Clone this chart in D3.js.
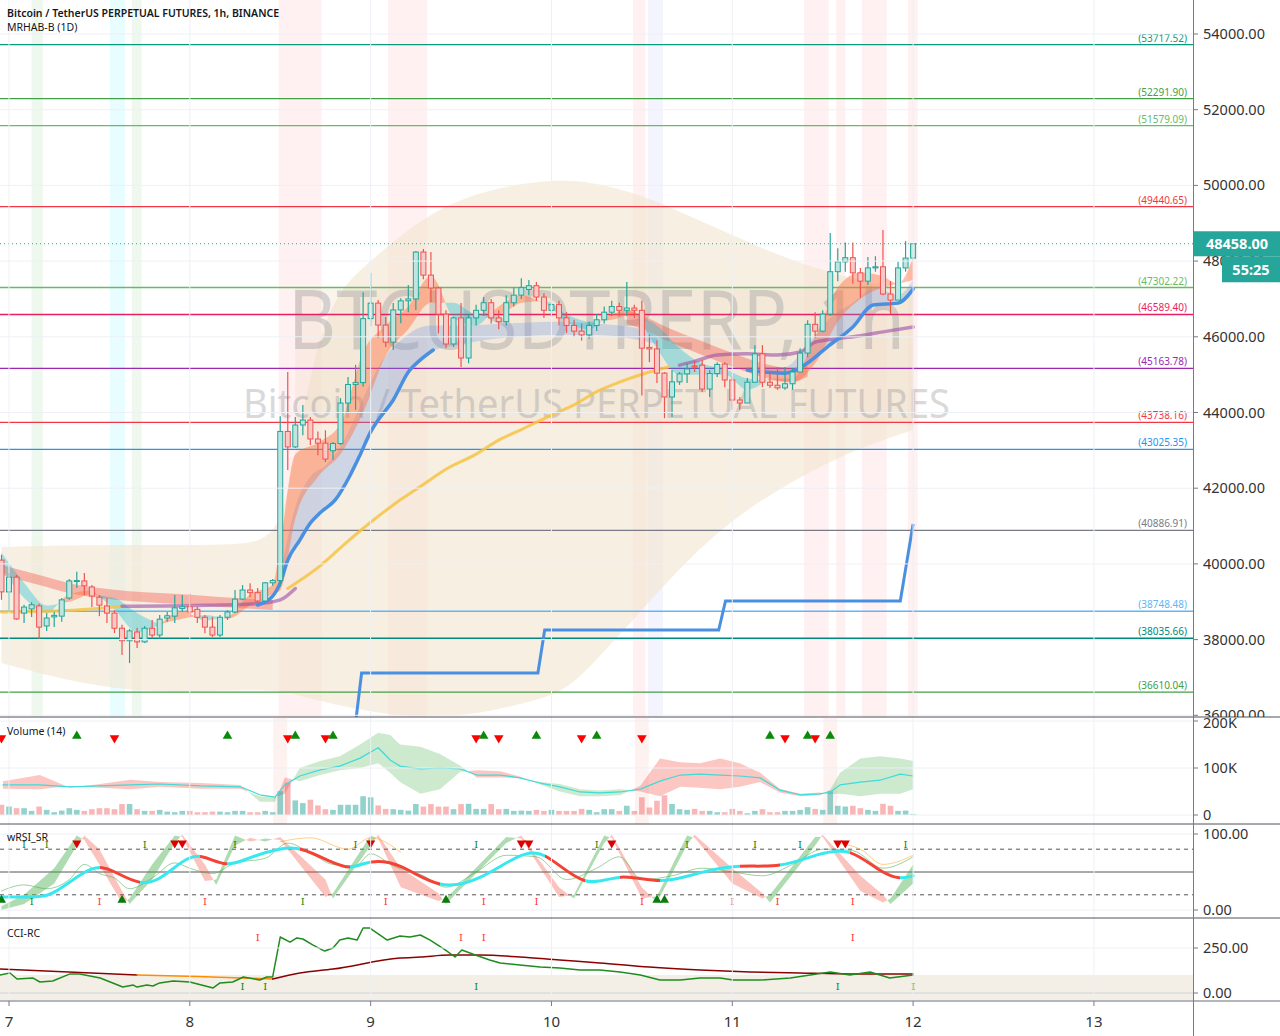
<!DOCTYPE html>
<html><head><meta charset="utf-8">
<script src="https://cdn.jsdelivr.net/npm/d3@7"></script>
<style>body{margin:0;background:#fff;overflow:hidden}svg{display:block;font-family:"Noto Sans",sans-serif}</style>
</head><body><svg id="c" width="1280" height="1036"></svg>
<script>
// ---------------- DATA ----------------
const dayLabels = ["7","8","9","10","11","12","13"];
const priceTicks = [36000,38000,40000,42000,44000,46000,48000,50000,52000,54000];
const open = [40100,39260,39650,38700,38810,38890,38360,38600,38620,39100,39540,39550,39390,39120,38890,38700,38300,37970,38200,37940,38300,38120,38570,38620,38820,38870,38800,38590,38330,38120,38590,38730,39070,39310,39240,39020,39500,39560,43500,43090,43670,43800,43300,43190,42990,43180,44250,44740,44790,46480,46890,46310,45860,46710,46950,47000,48240,47630,47290,46600,45810,46500,45440,46500,46700,46900,46500,46400,46900,47100,47250,47350,47050,46700,46850,46500,46300,46150,46050,46300,46450,46650,46800,46700,46760,46700,45720,45680,45040,44410,44810,45020,45230,45250,44620,45030,45280,44860,44330,44250,44800,45550,44800,44720,44650,44760,45070,45570,46330,46150,46600,47720,47980,48090,47690,47470,47820,47850,47130,46970,47820,48080];
const close = [39260,39650,38545,38860,38920,38330,38570,38640,39050,39550,39560,39420,39150,38910,38700,38300,37970,38230,37940,38300,38120,38540,38630,38840,38870,38730,38590,38330,38120,38590,38730,39070,39310,39240,39020,39500,39560,43500,43090,43670,43800,43300,43190,42770,43180,44250,44740,44790,46480,46890,46310,45860,46710,46950,47000,48240,47630,47290,46600,45810,46500,45440,46500,46700,46900,46500,46400,46900,47100,47300,47350,47050,46700,46850,46500,46300,46150,46050,46300,46450,46650,46800,46700,46760,46700,45700,45680,45040,44410,44810,45020,45150,45200,44620,45030,45270,44860,44330,44250,44800,45550,44800,44720,44650,44760,45070,45570,46330,46150,46600,47720,47980,48090,47690,47470,47820,47850,47130,46970,47820,48080,48458];
const high = [40240,39760,39710,38920,38990,38950,38700,38730,39100,39600,39790,39760,39440,39180,39100,38780,38390,38280,38310,38360,38520,38650,38730,39180,39180,39210,38860,38650,38600,38650,38780,39310,39440,39490,39360,39520,39600,43900,45070,43880,44200,43880,43500,43530,43220,44380,44940,45260,47180,47690,46970,46520,46890,47020,47370,48270,48320,48240,47320,46700,46530,46890,46600,46850,47050,47000,46700,47100,47300,47550,47500,47450,47150,47000,46950,46650,46450,46350,46400,46600,46800,46950,46900,47450,46850,46960,46050,45910,45070,45120,45070,45310,45360,45390,45120,45330,45330,44940,44410,44910,45780,45780,45070,45200,45200,45170,45700,46440,46650,46700,48740,48340,48490,48490,47820,48110,48130,48820,47470,47980,48530,48460];
const low = [39050,38730,38520,38440,38600,37990,38230,38330,38470,39050,39360,39180,38860,38620,38440,38170,37590,37380,37780,37910,38040,37990,38470,38440,38730,38600,38440,38170,38070,38070,38520,38700,39040,39120,38960,38990,39420,39400,42480,43060,43400,43140,42870,42690,42750,43140,43990,44070,44680,46280,45970,45730,45650,46360,46650,46710,47520,46920,46090,45700,45730,45200,45300,46300,46550,46350,46200,46300,46800,47000,47100,46950,46500,46550,46300,46100,46000,45900,45950,46150,46350,46550,46550,46550,46500,44450,45330,44780,43850,43880,44730,44780,45070,44540,44410,44940,44670,44070,44070,44250,44800,44670,44650,44600,44600,44600,45070,45460,45970,46120,46550,47470,47720,47400,47030,47370,47720,47100,46600,46970,47720,48080];
const volumeK = [21.7,18,14.5,14.5,8.7,18,10.9,5.9,9.4,14.5,10.9,8.7,12.4,14.5,14.5,12.4,23.3,23.3,12.4,8.7,8.7,10.9,7.2,5.9,8.7,8.7,5.9,5.9,7.2,7.2,5.9,8.7,8.7,5.9,5.9,8.7,5.9,50.7,68.9,31.1,25.4,32.6,20.3,12.4,10.9,21.7,21.7,21.7,39.9,37.7,20.3,13,12.4,
 10.9,9.4,23.3,18,23.3,18,18,12.4,23.3,23.9,13,13,23.3,12.4,13,8.7,9.4,8.7,10.9,8.7,10.9,8.7,8.7,8.7,13,10.9,5.9,12.4,12.4,8.7,19.6,8.7,37.7,15.9,30.4,42,23.3,12.4,10.9,13,8.7,8.7,5.9,5.9,13,8.7,3.7,8.7,12.4,5.9,5.9,8.7,8.7,10.9,16.7,13,10.9,50.7,19.6,18,19.6,14.5,10.9,8.7,23.9,19.6,8.7,9.4,2.2];

// horizontal levels
const levelValues = [53717.52,52291.90,51579.09,49440.65,47302.22,46589.40,45163.78,43738.16,43025.35,40886.91,38748.48,38035.66,36610.04];
const levelColors = ["#089981","#43a047","#66bb6a","#f23645","#66bb6a","#e91e63","#9c27b0","#f23645","#2196f3","#787b86","#64b5f6","#00897b","#43a047"];

// big envelope (1D bands)
const envHours = [-1,10,20,30,36,38,41,44,48,52,58,64,70,74,78,84,90,96,102,108,114,120];
const envUpper = [40447,40499,40499,40499,40631,43000,46000,47300,48000,48700,49500,49900,50100,50143,50063,49746,49218,48689,48161,47765,47421,47236];
const envLower = [37382,36800,36589,36668,36668,36536,36400,36250,36100,35982,35956,36100,36404,36668,37461,38782,40103,41160,41960,42613,43142,43538];
// inner box (1D body)
const boxHours = [38,120];
const boxTop = [47302.22,47302.22];
const boxBottom = [43738.16,43738.16];

// fast ribbon
const fastHours = [-1,2,5,8,11,14,17,20,23,26,29,32,35,36,38,41,44,47,50,53,56,59,62,65,68,71,74,77,80,83,86,89,92,95,98,101,104,107,110,113,116,118,120];
const fastA = [39900,39100,38700,39200,39300,38800,38200,38400,38750,38500,38600,39200,39450,40500,42900,43200,43700,45600,46300,46800,47600,46500,46300,46800,47100,46900,46400,46200,46600,46700,45700,45000,45000,45000,44600,44900,44900,46000,47300,47700,47600,47400,48100];
const fastB = [40300,39500,38900,39000,39200,39100,38700,38400,38550,38650,38550,38900,39200,39300,41200,42300,42900,44000,45500,46200,46900,46900,46600,46600,46900,46950,46600,46400,46450,46600,46300,45700,45300,45150,44900,44850,44800,45300,46400,47000,47300,47400,47500];

// slow red ribbon (two pieces)
const slowHours1 = [-1,4,8,12,16,20,25,30,35];
const slowUp1 = [39970,39705,39490,39360,39280,39230,39175,39100,39045];
const slowLo1 = [39710,39445,39230,39100,39020,38970,38915,38840,38785];
const slowHours2 = [82,84,87,92,96,100,104,106];
const slowUp2 = [46700,46570,46280,45880,45570,45300,45170,45250];
const slowLo2 = [46340,46210,45920,45520,45210,44940,44810,44950];

// blue EMA + its band
const blueHours = [33,35,36,37,38.6,40,41.3,43.3,45.3,46.6,48,49,51,53,54.6,56.3,60,66,72,78,84,90,95,98,100,103,106,108.6,112,114.7,118,120];
const blueEma = [38914,39150,39500,40100,40630,41080,41350,41690,42350,42880,43490,43800,44330,45070,45390,45650,45800,45980,46050,46050,45900,45600,45300,45120,45070,45040,45310,45730,46260,46840,46890,47260];
const blueBandHours = [36,38,40,42,44,46,48,50,52,54,56,60,66,72,78,84,86];
const blueBandTop = [39700,41500,42300,42600,43100,43900,44800,45500,45900,46200,46300,46300,46350,46400,46350,46200,46000];
const blueBandHours2 = [98,103,106,109,112,115,118,120];
const blueBandTop2 = [45200,45200,45800,46500,46900,47300,47100,47500];
const blueVisible = [[33,56.3],[97.5,120]];

// MA line (yellow / purple pieces)
const maYellow1H = [-1,7,15], maYellow1 = [38730,38760,38880];
const maPurple1H = [15,25,33,36,38], maPurple1 = [38880,38900,38950,39050,39350];
const maYellow2H = [37,41,45,48,52,55,58,62,65,68,72,75,78,81,85,87.5];
const maYellow2 = [39350,39900,40600,41100,41700,42100,42500,42900,43270,43550,43930,44200,44550,44800,45070,45200];
const maPurple2H = [89,91,94,98,102,105,107,110,113,116,120];
const maPurple2 = [45250,45350,45520,45550,45520,45600,45860,45950,46030,46130,46260];

// step (trailing stop) line
const stepHours = [46.0,46.8,70.2,71.1,94.2,95.1,118.3,120];
const stepValues = [35800,37118,37118,38254,38254,39020,39020,41054];

// background stripes [start,end,kind]
const stripeStart = [3,13.4,16.3,35.8,50.3,82.8,84.8,105.5,109.8,113.2,119.3];
const stripeEnd   = [4.5,15.4,17.6,41.5,55.5,84.5,86.8,108.8,111,116.5,120.6];
const stripeKind  = ["g","c","g","r","r","r","b","r","r","r","r"];

// volume MA and bands
const vmaHours = [-0.8,4.1,8.1,12.1,16.1,20,25.4,30.7,33.3,35.3,36.6,38.6,41.3,43.9,46.6,49,50.6,51.9,54.6,57.2,59.9,62.1,65.2,67.8,70.5,73.1,75.8,78.4,81.1,83.8,86.4,89.1,91.7,94.4,97,99.7,102.3,105,107.6,109,110.3,113,115.6,118.3,120];
const vma = [64,64,60,62,64,66,62,60,43,38,64,83,96,104,121,143,117,104,98,100,98,85,85,79,68,60,49,47,49,55,72,85,87,85,83,79,53,43,45,49,64,70,74,87,83];
const vbandA = [56,55,62,58,55,60,56,56,40,38,45,100,115,125,150,175,170,150,145,130,105,80,80,78,70,66,55,52,55,50,40,60,58,55,60,70,48,40,42,54,90,120,125,120,115];
const vbandB = [72,85,58,66,75,70,68,64,28,28,80,72,85,95,100,110,90,70,45,55,92,95,93,82,65,50,40,40,42,62,120,112,110,120,110,90,56,45,48,44,45,40,45,45,55];
const volUpMarks = [9,29,38,43,63,70,78,101,106,109];
const volDnMarks = [-1,14,37,42,62,65,76,84,103,107];
const volShade = [36,84,109];

// wRSI
const rsiHours = [-1.2,4.1,5.8,9.8,12.1,14.3,17.4,20,23.1,25.4,28.9,32,36.4,38.6,43,45.3,47.9,51.9,57.2,62.5,67.8,71.1,76.5,81.1,86.4,91.7,97,102.3,107.6,111.6,115.6,118.3,120];
const rsiSlow = [17,17,20,50,59,49,33,39,66,75,55,70,82,83,62,53,66,62,26,39,75,79,26,50,33,50,60,55,75,82,50,40,45];
const oscHours = [-1,2,6,9,10,12,15,16,19,22,23,26,27.5,30,32,34,36,42,43,48,49,52,57,58,66,68,73,75,79,80,84,86,90,91,96,100,101,107,108,113,116,117,120];
const oscA = [5,20,55,98,92,60,9,15,60,98,96,38,40,98,90,94,92,17,22,98,94,30,12,15,96,94,17,20,98,95,15,18,98,95,35,15,20,96,96,25,10,15,60];
const oscB = [0,8,35,85,98,80,25,8,40,88,99,60,33,85,95,90,96,40,15,85,99,55,22,8,88,98,30,15,88,99,30,10,86,99,55,22,10,85,99,45,20,8,35];
const rsiThinH = [-1,2,5,8,10,12,14,16,19,22,24,27,30,34,37,40,43,46,48,51,55,58,62,66,70,74,78,81,84,88,92,96,100,104,108,112,116,120];
const rsiThin = [25,33,28,40,60,48,42,28,42,62,55,48,62,68,88,75,60,58,74,58,45,30,50,72,70,40,55,70,40,45,55,50,45,60,80,78,55,70];
const rsiOrangeH = [36,40,45,48,52], rsiOrange = [90,95,80,95,76];
const rsiOrange2H = [110,113,116,120], rsiOrange2 = [88,80,60,72];
const rsiTopI = [2,5,18,30,46,62,78,90,99,105,119];
const rsiTopDn = [9,22,23,48,68,69,80,110,111];
const rsiBotUp = [-1,15,58,86,87];
const rsiBotIGreen = [3,39];
const rsiBotIRed = [12,26,50,63,70,84,96,102,112];

// CCI
const cciHours = [-1.2,0.13,1.06,3.2,4.1,5.8,8.1,9.4,12.1,15.1,16.5,17,18.3,19.1,20,21.8,24,27.1,28,29.7,31.1,33.3,34.2,35,36,37.3,38.2,39,40.3,41.9,43,43.9,45,46.2,47,47.9,50.2,51.9,53.2,54.6,55.9,57.9,59.2,60.1,61.9,63.8,65.2,67.8,70.5,73.1,75.8,78.4,81.1,83.8,86.4,89.1,91.7,94.4,96.1,99.7,103.7,109,111.6,114.3,116.9,120];
const cci = [100,111,78,83,61,67,106,106,83,33,44,33,44,39,56,67,61,28,56,61,89,72,89,89,311,283,306,300,267,233,250,294,306,294,361,361,294,317,311,322,294,239,200,239,211,183,167,156,144,139,128,128,117,100,72,72,83,83,72,72,83,117,100,117,83,100];
const cciSigH1 = [-1.2,17], cciSig1 = [133,100];
const cciSigH2 = [17,25,35], cciSig2 = [100,92,78];
const cciSigH3 = [35,38.6,43,51.9,54.6,58.5,62.5,67.8,73.1,78.4,85,91.7,98.4,105,111.6,120];
const cciSig3 = [78,111,133,194,200,211,211,200,183,167,144,128,117,111,106,106];
const cciTopI = [33,60,63,112];
const cciBotI = [31,34,62,110,120];

// ---------------- LAYOUT ----------------
const W = 1280, AX = 1193;
const svg = d3.select("#c");
const x = d3.scaleLinear().domain([-1.1946, 157.15]).range([0, AX]);
const y = d3.scaleLinear().domain([36000, 54000]).range([715.3, 34]);
const yv = d3.scaleLinear().domain([0, 200]).range([815, 721]);
const yr = d3.scaleLinear().domain([0, 100]).range([910, 834]);
const yc = d3.scaleLinear().domain([0, 250]).range([993, 948]);
const hours = d3.range(-1, 121);
const TEAL = "#26a69a", RED = "#ef5350";

const defs = svg.append("defs");
const clips = {main:[0,0,AX,717], vol:[0,718,AX,106], rsi:[0,825,AX,93], cci:[0,919,AX,82]};
Object.entries(clips).forEach(([k,r])=>{
  defs.append("clipPath").attr("id","cl-"+k).append("rect").attr("x",r[0]).attr("y",r[1]).attr("width",r[2]).attr("height",r[3]);
});
const gMain = svg.append("g").attr("clip-path","url(#cl-main)");
const gVol = svg.append("g").attr("clip-path","url(#cl-vol)");
const gRsi = svg.append("g").attr("clip-path","url(#cl-rsi)");
const gCci = svg.append("g").attr("clip-path","url(#cl-cci)");

// stripes
const stripeColor = {g:"rgba(76,175,80,0.09)", c:"rgba(0,229,255,0.09)", r:"rgba(255,82,82,0.08)", b:"rgba(110,110,255,0.08)"};
stripeStart.forEach((s,i)=>{
  gMain.append("rect").attr("x",x(s)).attr("y",0).attr("width",x(stripeEnd[i])-x(s)).attr("height",717).attr("fill",stripeColor[stripeKind[i]]);
});

// grid
const grid = svg.append("g").attr("stroke","#edf0f5").attr("stroke-width",1);
dayLabels.forEach((d,i)=>{ grid.append("line").attr("x1",x(i*24)).attr("x2",x(i*24)).attr("y1",0).attr("y2",1001); });
priceTicks.forEach(p=>{ grid.append("line").attr("x1",0).attr("x2",AX).attr("y1",y(p)).attr("y2",y(p)); });
[0,100,200].forEach(v=>grid.append("line").attr("x1",0).attr("x2",AX).attr("y1",yv(v)).attr("y2",yv(v)));
[0,100].forEach(v=>grid.append("line").attr("x1",0).attr("x2",AX).attr("y1",yr(v)).attr("y2",yr(v)));
[0,250].forEach(v=>grid.append("line").attr("x1",0).attr("x2",AX).attr("y1",yc(v)).attr("y2",yc(v)));

// envelope
const envPts = envHours.map((h,i)=>({h,u:envUpper[i],l:envLower[i]}));
gMain.append("path").attr("d", d3.area().x(d=>x(d.h)).y0(d=>y(d.l)).y1(d=>y(d.u)).curve(d3.curveBasis)(envPts))
  .attr("fill","#f2e4cf").attr("opacity",0.6);
gMain.append("rect").attr("x",x(boxHours[0])).attr("width",x(boxHours[1])-x(boxHours[0]))
  .attr("y",y(boxTop[0])).attr("height",y(boxBottom[0])-y(boxTop[0])).attr("fill","#efdcc2").attr("opacity",0.3);

// watermark
gMain.append("text").attr("x",288).attr("y",349).attr("textLength",617).attr("lengthAdjust","spacingAndGlyphs")
  .attr("font-size",82).attr("fill","#787b86").attr("opacity",0.28).text("BTCUSDTPERP, 1h");
gMain.append("text").attr("x",243).attr("y",418).attr("textLength",707).attr("lengthAdjust","spacingAndGlyphs")
  .attr("font-size",40).attr("fill","#787b86").attr("opacity",0.28).text("Bitcoin / TetherUS PERPETUAL FUTURES");

// helpers
function ribbon(g, keys, a, b, sx, sy, upC, dnC, curve){
  const segs=[]; let cur=null;
  for(let i=0;i<keys.length;i++){
    const s = a[i]>=b[i];
    if(!cur){cur={s,pts:[{k:keys[i],a:a[i],b:b[i]}]};continue;}
    if(s!==cur.s){
      const p=cur.pts[cur.pts.length-1]; const d0=p.a-p.b, d1=a[i]-b[i]; const t=d0/(d0-d1);
      const k=p.k+t*(keys[i]-p.k), v=p.a+t*(a[i]-p.a);
      cur.pts.push({k,a:v,b:v}); segs.push(cur); cur={s,pts:[{k,a:v,b:v}]};
    }
    cur.pts.push({k:keys[i],a:a[i],b:b[i]});
  }
  segs.push(cur);
  const ar = d3.area().x(p=>sx(p.k)).y0(p=>sy(p.a)).y1(p=>sy(p.b)).curve(curve||d3.curveMonotoneX);
  segs.forEach(sg=>g.append("path").attr("d",ar(sg.pts)).attr("fill",sg.s?upC:dnC));
}
function band(g, keys, up, lo, sx, sy, fill){
  const pts = keys.map((k,i)=>({k,u:up[i],l:lo[i]}));
  g.append("path").attr("d", d3.area().x(p=>sx(p.k)).y0(p=>sy(p.l)).y1(p=>sy(p.u)).curve(d3.curveMonotoneX)(pts)).attr("fill",fill);
}
function line(g, keys, vals, sx, sy, color, w, op, curve){
  const pts = keys.map((k,i)=>[sx(k),sy(vals[i])]);
  return g.append("path").attr("d", d3.line().curve(curve||d3.curveMonotoneX)(pts)).attr("fill","none")
    .attr("stroke",color).attr("stroke-width",w).attr("stroke-opacity",op==null?1:op).attr("stroke-linejoin","round").attr("stroke-linecap","round");
}
function iText(g, cx, cy, color){
  g.append("text").attr("x",cx).attr("y",cy).attr("text-anchor","middle").attr("font-size",10)
    .attr("font-family","DejaVu Serif").attr("fill",color).text("I");
}
const interp = (keys, vals, k)=>{ for(let i=0;i<keys.length-1;i++){ if(k>=keys[i]&&k<=keys[i+1]){const t=(k-keys[i])/(keys[i+1]-keys[i]);return vals[i]+t*(vals[i+1]-vals[i]);} } return vals[vals.length-1]; };

// levels
levelValues.forEach((v,i)=>{
  gMain.append("line").attr("x1",0).attr("x2",AX).attr("y1",y(v)).attr("y2",y(v)).attr("stroke",levelColors[i]).attr("stroke-width",1.3);
});

band(gMain, blueBandHours, blueBandTop, blueBandHours.map(h=>interp(blueHours,blueEma,h)), x, y, "rgba(100,149,237,0.28)");
band(gMain, blueBandHours2, blueBandTop2, blueBandHours2.map(h=>interp(blueHours,blueEma,h)), x, y, "rgba(100,149,237,0.28)");
band(gMain, slowHours1, slowUp1, slowLo1, x, y, "rgba(244,67,54,0.35)");
band(gMain, slowHours2, slowUp2, slowLo2, x, y, "rgba(244,67,54,0.35)");
ribbon(gMain, fastHours, fastA, fastB, x, y, "rgba(255,112,67,0.45)", "rgba(0,188,212,0.33)");

line(gMain, maYellow1H, maYellow1, x, y, "#f6c343", 3, 0.85);
line(gMain, maPurple1H, maPurple1, x, y, "#9c4fa8", 3.5, 0.6);
line(gMain, maYellow2H, maYellow2, x, y, "#f6c343", 3, 0.85);
line(gMain, maPurple2H, maPurple2, x, y, "#9c4fa8", 3.5, 0.6);

blueVisible.forEach(([a,b])=>{
  const ks = blueHours.filter(h=>h>=a&&h<=b);
  line(gMain, ks, ks.map(h=>interp(blueHours,blueEma,h)), x, y, "#4a90e2", 3.5, 1);
});

// candles
const cg = gMain.append("g");
hours.forEach((h,i)=>{
  const up = close[i]>=open[i]; const col = up?TEAL:RED;
  const cx = x(h);
  cg.append("line").attr("x1",cx).attr("x2",cx).attr("y1",y(high[i])).attr("y2",y(low[i])).attr("stroke",col).attr("stroke-width",1.2);
  const top = y(Math.max(open[i],close[i])), bot = y(Math.min(open[i],close[i]));
  cg.append("rect").attr("x",cx-2.5).attr("y",top).attr("width",5).attr("height",Math.max(1,bot-top))
    .attr("fill",up?"#bfe5e1":"#f9c9c8").attr("stroke",col).attr("stroke-width",1);
});

// step line
gMain.append("path").attr("d", d3.line().x((h)=>x(h)).y((h,i)=>y(stepValues[i]))(stepHours))
  .attr("fill","none").attr("stroke","#4a90e2").attr("stroke-width",3);

gMain.append("line").attr("x1",0).attr("x2",AX).attr("y1",y(close[close.length-1])).attr("y2",y(close[close.length-1]))
  .attr("stroke",TEAL).attr("stroke-width",1).attr("stroke-dasharray","1,3");

levelValues.forEach((v,i)=>{
  gMain.append("text").attr("x",1187).attr("y",y(v)-3).attr("text-anchor","end").attr("font-size",10)
    .attr("fill",levelColors[i]).text("("+v.toFixed(2)+")");
});

// ---------------- VOLUME ----------------
volShade.forEach(h=>gVol.append("rect").attr("x",x(h)-7).attr("y",718).attr("width",14).attr("height",106).attr("fill","rgba(239,83,80,0.08)"));
ribbon(gVol, vmaHours, vbandA, vbandB, x, yv, "rgba(76,175,80,0.28)", "rgba(244,67,54,0.3)", d3.curveLinear);
hours.forEach((h,i)=>{
  const up = close[i]>=open[i];
  gVol.append("rect").attr("x",x(h)-2.8).attr("y",yv(volumeK[i])).attr("width",5.6).attr("height",yv(0)-yv(volumeK[i]))
    .attr("fill",up?"rgba(38,166,154,0.5)":"rgba(239,83,80,0.42)");
});
line(gVol, vmaHours, vma, x, yv, "#3ddbd9", 1.2, 1, d3.curveLinear);
const tri = d3.symbol().type(d3.symbolTriangle).size(40);
volUpMarks.forEach(h=>gVol.append("path").attr("d",tri()).attr("transform",`translate(${x(h)},736)`).attr("fill","#0a8a0a"));
volDnMarks.forEach(h=>gVol.append("path").attr("d",tri()).attr("transform",`translate(${x(h)},738) rotate(180)`).attr("fill","#f00"));

// ---------------- wRSI ----------------
gRsi.append("line").attr("x1",0).attr("x2",AX).attr("y1",yr(80)).attr("y2",yr(80)).attr("stroke","#555").attr("stroke-dasharray","4,4").attr("stroke-width",1);
gRsi.append("line").attr("x1",0).attr("x2",AX).attr("y1",yr(20)).attr("y2",yr(20)).attr("stroke","#555").attr("stroke-dasharray","4,4").attr("stroke-width",1);
gRsi.append("line").attr("x1",0).attr("x2",AX).attr("y1",yr(50)).attr("y2",yr(50)).attr("stroke","#555").attr("stroke-width",1);
ribbon(gRsi, oscHours, oscA, oscB, x, yr, "rgba(76,175,80,0.45)", "rgba(244,67,54,0.32)", d3.curveLinear);
line(gRsi, rsiThinH, rsiThin, x, yr, "#4caf50", 0.8, 0.7);
line(gRsi, rsiOrangeH, rsiOrange, x, yr, "#ff9800", 0.8, 0.6);
line(gRsi, rsiOrange2H, rsiOrange2, x, yr, "#ff9800", 0.8, 0.6);
const grad = defs.append("linearGradient").attr("id","rsig").attr("gradientUnits","userSpaceOnUse").attr("x1",0).attr("x2",AX).attr("y1",0).attr("y2",0);
for(let i=0;i<rsiHours.length-1;i++){
  const c = rsiSlow[i+1]>=rsiSlow[i] ? "#38e8f0" : "#f44336";
  grad.append("stop").attr("offset",x(rsiHours[i])/AX).attr("stop-color",c);
  grad.append("stop").attr("offset",x(rsiHours[i+1])/AX).attr("stop-color",c);
}
line(gRsi, rsiHours, rsiSlow, x, yr, "url(#rsig)", 3, 1, d3.curveBasis);
const small = d3.symbol().type(d3.symbolTriangle).size(36);
rsiTopI.forEach(h=>iText(gRsi, x(h), yr(82), "#0a8a0a"));
rsiTopDn.forEach(h=>gRsi.append("path").attr("d",small()).attr("transform",`translate(${x(h)},${yr(88)}) rotate(180)`).attr("fill","#d00"));
rsiBotUp.forEach(h=>gRsi.append("path").attr("d",small()).attr("transform",`translate(${x(h)},${yr(13)})`).attr("fill","#0a7a0a"));
rsiBotIGreen.forEach(h=>iText(gRsi, x(h), yr(6), "#0a8a0a"));
rsiBotIRed.forEach(h=>iText(gRsi, x(h), yr(6), "#f33"));

// ---------------- CCI ----------------
gCci.append("rect").attr("x",0).attr("width",AX).attr("y",yc(100)).attr("height",1001-yc(100)).attr("fill","#f3efe6");
gCci.append("line").attr("x1",0).attr("x2",AX).attr("y1",yc(0)).attr("y2",yc(0)).attr("stroke","#b8b5ad");
line(gCci, cciSigH1, cciSig1, x, yc, "#8b0000", 1.5, 1, d3.curveLinear);
line(gCci, cciSigH2, cciSig2, x, yc, "#ff8c00", 1.5, 1, d3.curveLinear);
line(gCci, cciSigH3, cciSig3, x, yc, "#8b0000", 1.5, 1, d3.curveMonotoneX);
line(gCci, cciHours, cci, x, yc, "#1e8c1e", 1.5, 1, d3.curveLinear);
cciTopI.forEach(h=>iText(gCci, x(h), yc(290), "#f33"));
cciBotI.forEach(h=>iText(gCci, x(h), yc(18), "#0a8a0a"));

// ---------------- FRAME / AXES ----------------
const fr = svg.append("g");
[[717,"#50535e",1],[824,"#50535e",1],[918,"#50535e",1],[1001,"#b2b5be",2]].forEach(([yy,c,w])=>
  fr.append("line").attr("x1",0).attr("x2",W).attr("y1",yy).attr("y2",yy).attr("stroke",c).attr("stroke-width",w));
fr.append("line").attr("x1",AX+0.5).attr("x2",AX+0.5).attr("y1",0).attr("y2",1036).attr("stroke","#787b86").attr("stroke-width",1);

const axG = svg.append("g").attr("font-size",14.5).attr("fill","#333");
defs.append("clipPath").attr("id","cl-axmain").append("rect").attr("x",AX).attr("y",0).attr("width",100).attr("height",717);
const yAxisMain = axG.append("g").attr("clip-path","url(#cl-axmain)");
priceTicks.forEach(p=>{
  yAxisMain.append("line").attr("x1",AX).attr("x2",AX+5).attr("y1",y(p)).attr("y2",y(p)).attr("stroke","#787b86");
  yAxisMain.append("text").attr("x",1203).attr("y",y(p)+5).text(p.toFixed(2));
});
const volTicks = [[0,"0"],[100,"100K"],[200,"200K"]];
volTicks.forEach(([v,t])=>{ axG.append("line").attr("x1",AX).attr("x2",AX+5).attr("y1",yv(v)).attr("y2",yv(v)).attr("stroke","#787b86");
  axG.append("text").attr("x",1203).attr("y",yv(v)+(v===200?7:5)).text(t); });
[[0,"0.00"],[100,"100.00"]].forEach(([v,t])=>{ axG.append("line").attr("x1",AX).attr("x2",AX+5).attr("y1",yr(v)).attr("y2",yr(v)).attr("stroke","#787b86");
  axG.append("text").attr("x",1203).attr("y",yr(v)+5).text(t); });
[[0,"0.00"],[250,"250.00"]].forEach(([v,t])=>{ axG.append("line").attr("x1",AX).attr("x2",AX+5).attr("y1",yc(v)).attr("y2",yc(v)).attr("stroke","#787b86");
  axG.append("text").attr("x",1203).attr("y",yc(v)+5).text(t); });
dayLabels.forEach((d,i)=>{
  axG.append("line").attr("x1",x(i*24)).attr("x2",x(i*24)).attr("y1",1001).attr("y2",1006).attr("stroke","#787b86");
  axG.append("text").attr("x",x(i*24)).attr("y",1027).attr("text-anchor","middle").attr("font-size",15).text(d);
});

const last = close[close.length-1];
svg.append("rect").attr("x",1194).attr("y",y(last)-12.5).attr("width",86).attr("height",25).attr("fill",TEAL);
svg.append("text").attr("x",1237).attr("y",y(last)+5.5).attr("text-anchor","middle").attr("font-size",14.5).attr("font-weight","bold").attr("fill","#fff").text(last.toFixed(2));
svg.append("rect").attr("x",1222).attr("y",y(last)+12.5).attr("width",58).attr("height",26).attr("fill",TEAL);
svg.append("text").attr("x",1251).attr("y",y(last)+31).attr("text-anchor","middle").attr("font-size",14.5).attr("font-weight","bold").attr("fill","#fff").text("55:25");

svg.append("text").attr("x",7).attr("y",17).attr("font-size",10.5).attr("font-weight","600").attr("fill","#131722").text("Bitcoin / TetherUS PERPETUAL FUTURES, 1h, BINANCE");
svg.append("text").attr("x",7).attr("y",31).attr("font-size",10.5).attr("fill","#131722").text("MRHAB-B (1D)");
svg.append("text").attr("x",7).attr("y",735).attr("font-size",10.5).attr("fill","#131722").text("Volume (14)");
svg.append("text").attr("x",7).attr("y",841).attr("font-size",10.5).attr("fill","#131722").text("wRSI_SR");
svg.append("text").attr("x",7).attr("y",937).attr("font-size",10.5).attr("fill","#131722").text("CCI-RC");
</script></body></html>
